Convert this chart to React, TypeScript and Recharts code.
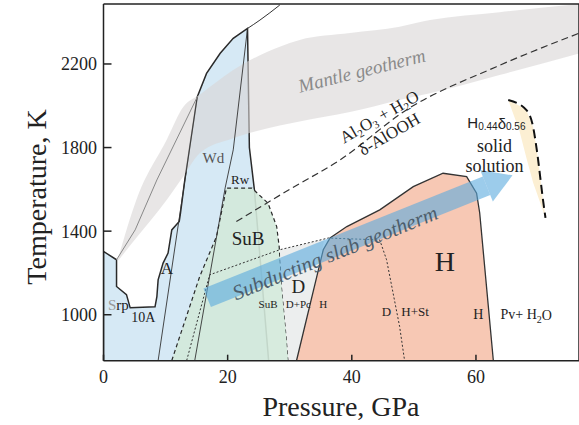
import { Area, ComposedChart, Line, Scatter, XAxis, YAxis } from "recharts";

const xTicks = [0, 20, 40, 60];
const yTicks = [1000, 1400, 1800, 2200];

const blueField = [
  [0, 781], [0, 1303], [2.1, 1263], [2.1, 1135], [3.7, 1096], [4.3, 1033], [8.3, 1038],
  [8.6, 1087], [8.8, 1167], [9.6, 1247], [10.4, 1295], [11.0, 1406], [12.2, 1446],
  [12.4, 1486], [13.1, 1645], [15.1, 2042], [16.6, 2155], [18.8, 2251], [20.9, 2323],
  [23.2, 2370], [23.5, 1800], [24.3, 1600], [26.6, 781],
];
const subField = [
  [11.0, 781], [15.5, 1183], [18.2, 1374], [19.8, 1606], [23.9, 1606], [26.5, 1534],
  [27.9, 1422], [28.3, 1326], [28.7, 1152], [29.5, 896], [29.8, 781],
];
const dField = [[29.8, 781], [29.5, 896], [28.7, 1152], [28.4, 1311], [35.6, 1362], [31.1, 781]];
const hField = [
  [31.1, 781], [35.4, 1311], [36.5, 1367], [39.2, 1422], [44.5, 1502], [49.9, 1613],
  [54.7, 1677], [58.5, 1661], [60.1, 1582], [60.6, 1488], [62.8, 781],
];

// bands: pressure, lower T, upper T
const mantleP = [2.2, 5.3, 10.2, 12.9, 15.5, 20.9, 28.4, 31.6, 39.7, 47.7, 52.6, 63.8, 76.6];
const mantleLo = [1253, 1368, 1550, 1664, 1773, 1845, 1905, 1925, 1970, 2028, 2060, 2147, 2250];
const mantleHi = [1253, 1550, 1838, 1996, 2053, 2171, 2283, 2315, 2348, 2378, 2410, 2448, 2487];
const ssP = [65.2, 67.0, 68.1, 69.2, 69.8, 70.8, 71.2];
const ssLo = [2028, 1880, 1754, 1633, 1582, 1497, 1463];
const ssHi = [2028, 2000, 1980, 1900, 1789, 1550, 1463];

// boundaries
const awdLine = [[8.8, 781], [15.1, 2042]];
const wdRwLine = [[23.2, 2370], [20.9, 1789], [19.6, 1607], [14.7, 781]];
const grayLine = [[2.1, 1263], [5.1, 1406], [8.6, 1645], [15.1, 2042]];
const topLine = [[23.2, 2370], [25.2, 2410], [28.4, 2482]];
const dottedLine = [
  [13.4, 781], [17.1, 1191], [28.4, 1311], [36.2, 1367], [44.5, 1358], [45.6, 1263],
  [47.7, 944], [48.5, 781],
];
const aloohLine = [[21.4, 1446], [30, 1600], [38.1, 1741], [48.8, 1980], [63.3, 2187], [76.6, 2347]];
const ssLine = [[65.2, 2028], [68.1, 1980], [69.2, 1900], [69.8, 1789], [70.8, 1550], [71.2, 1463]];
const slabArrow = [[16.7, 1081], [61.7, 1617]];
const slabHead = [[61.7, 1617]];

const labels = [
  { id: "mantle", x: 41.6, y: 2168 },
  { id: "alooh", x: 45.3, y: 1903 },
  { id: "hd", x: 63.3, y: 1918 },
  { id: "solid", x: 63.0, y: 1808 },
  { id: "solution", x: 63.0, y: 1714 },
  { id: "Wd", x: 17.7, y: 1749 },
  { id: "Rw", x: 22.0, y: 1649 },
  { id: "SuB", x: 23.3, y: 1367 },
  { id: "A", x: 10.2, y: 1223 },
  { id: "Srp", x: 2.4, y: 1048 },
  { id: "10A", x: 6.4, y: 989 },
  { id: "D", x: 31.4, y: 1135 },
  { id: "subSmall", x: 26.5, y: 1053 },
  { id: "D+Pc", x: 31.4, y: 1053 },
  { id: "hSmall", x: 35.4, y: 1053 },
  { id: "H", x: 55.0, y: 1255 },
  { id: "dSmall", x: 45.6, y: 1016 },
  { id: "H+St", x: 50.2, y: 1016 },
  { id: "hPv", x: 60.4, y: 1000 },
  { id: "Pv", x: 68.1, y: 1000 },
  { id: "slab", x: 37.3, y: 1296 },
];

const pts = (a: number[][]) => a.map(([x, y]) => ({ x, y }));
const band = (p: number[], lo: number[], hi: number[]) => p.map((x, i) => ({ x, r: [lo[i], hi[i]] }));

const serif = "'Liberation Serif', 'Times New Roman', serif";
const sans = "'Liberation Sans', Arial, sans-serif";
const ink = "#222";

const plain: Record<string, [string, number, string?]> = {
  Wd: ["Wd", 15, "#555"],
  Rw: ["Rw", 13],
  SuB: ["SuB", 19],
  A: ["A", 17],
  "10A": ["10A", 14],
  D: ["D", 19],
  subSmall: ["SuB", 11],
  "D+Pc": ["D+Pc", 11],
  hSmall: ["H", 11],
  H: ["H", 28],
  dSmall: ["D", 13],
  "H+St": ["H+St", 13],
  hPv: ["H", 14],
  solid: ["solid", 18],
  solution: ["solution", 18],
};

function PhaseLabel(props: any) {
  const { cx, cy, payload } = props;
  const id = payload.id;
  if (plain[id]) {
    const [t, size, color] = plain[id];
    return (
      <text x={cx} y={cy} textAnchor="middle" dominantBaseline="central" fontFamily={serif} fontSize={size} fill={color ?? ink}>
        {t}
      </text>
    );
  }
  if (id === "Srp")
    return (
      <text x={cx} y={cy} textAnchor="middle" dominantBaseline="central" fontFamily={serif} fontSize={15} fill={ink}>
        <tspan fill="#999">S</tspan>rp
      </text>
    );
  if (id === "Pv")
    return (
      <text x={cx} y={cy} textAnchor="middle" dominantBaseline="central" fontFamily={serif} fontSize={14} fill={ink}>
        Pv+ H<tspan fontSize={10} dy={4}>2</tspan><tspan dy={-4}>O</tspan>
      </text>
    );
  if (id === "hd")
    return (
      <text x={cx} y={cy} textAnchor="middle" dominantBaseline="central" fontFamily={sans} fontSize={15} fill={ink}>
        H<tspan fontSize={10} dy={3}>0.44</tspan><tspan dy={-3}>δ</tspan><tspan fontSize={10} dy={3}>0.56</tspan>
      </text>
    );
  if (id === "mantle")
    return (
      <text x={cx} y={cy} transform={`rotate(-14 ${cx} ${cy})`} textAnchor="middle" dominantBaseline="central" fontFamily={serif} fontStyle="italic" fontSize={19} fill="#8a8a8a">
        Mantle geotherm
      </text>
    );
  if (id === "slab")
    return (
      <text x={cx} y={cy} transform={`rotate(-22 ${cx} ${cy})`} textAnchor="middle" dominantBaseline="central" fontFamily={serif} fontStyle="italic" fontSize={21} fill="#4d5e6c">
        Subducting slab geotherm
      </text>
    );
  if (id === "alooh")
    return (
      <g transform={`translate(${cx} ${cy}) rotate(-30)`} fontFamily={serif} fontSize={17} fill={ink}>
        <text x={0} y={-5} textAnchor="middle">
          Al<tspan fontSize={11} dy={3}>2</tspan><tspan dy={-3}>O</tspan><tspan fontSize={11} dy={3}>3</tspan>
          <tspan dy={-3}> + H</tspan><tspan fontSize={11} dy={3}>2</tspan><tspan dy={-3}>O</tspan>
        </text>
        <text x={0} y={15} textAnchor="middle">δ-AlOOH</text>
      </g>
    );
  return null;
}

function ArrowHead(props: any) {
  const { cx, cy } = props;
  const ux = 0.928, uy = -0.373;
  const tip = `${cx + 28 * ux},${cy + 28 * uy}`;
  const a = `${cx - 17 * uy},${cy + 17 * ux}`;
  const b = `${cx + 17 * uy},${cy - 17 * ux}`;
  return <polygon points={`${a} ${tip} ${b}`} fill="#5aaadd" fillOpacity={0.6} />;
}

const axisTick = { fontFamily: serif, fontSize: 18, fill: ink };
const noLabel = () => <g />;

export default function App() {
  return (
    <div style={{ position: "absolute", left: 0, top: 0, background: "#fff" }}>
      <ComposedChart width={579} height={425} margin={{ top: 3, right: -1, bottom: 0, left: 0 }}>
        <XAxis
          xAxisId={0}
          dataKey="x"
          type="number"
          domain={[0, 76.6]}
          ticks={xTicks}
          allowDataOverflow
          height={64.3}
          tickSize={-6}
          tickMargin={16}
          tick={axisTick}
          stroke={ink}
          strokeWidth={1.5}
          label={{
            content: () => (
              <text x={341} y={416} textAnchor="middle" fontFamily={serif} fontSize={28} fill={ink}>
                Pressure, GPa
              </text>
            ),
          }}
        />
        <XAxis xAxisId="top" orientation="top" type="number" domain={[0, 76.6]} ticks={xTicks} height={1} tickSize={-6} tick={noLabel} stroke={ink} strokeWidth={1.5} />
        <YAxis
          yAxisId={0}
          dataKey="y"
          type="number"
          domain={[780, 2487]}
          ticks={yTicks}
          allowDataOverflow
          width={103.5}
          tickSize={-8}
          tickMargin={14.5}
          tick={axisTick}
          stroke={ink}
          strokeWidth={1.5}
          label={{
            content: () => (
              <text x={36} y={197} transform="rotate(-90 36 197)" textAnchor="middle" dominantBaseline="central" fontFamily={serif} fontSize={28} fill={ink}>
                Temperature, K
              </text>
            ),
          }}
        />
        <YAxis yAxisId="right" orientation="right" type="number" domain={[780, 2487]} ticks={yTicks} width={1} tickSize={-9} tick={noLabel} stroke={ink} strokeWidth={1.5} />

        <Area data={pts(blueField)} dataKey="y" type="linear" fill="#d6e9f5" fillOpacity={1} stroke="#2a2a2a" strokeWidth={1.5} isAnimationActive={false} />
        <Area data={pts(subField)} dataKey="y" type="linear" fill="#d3e9da" fillOpacity={0.9} stroke="#2a2a2a" strokeWidth={1.2} strokeDasharray="4 3" isAnimationActive={false} />
        <Area data={pts(dField)} dataKey="y" type="linear" fill="#eceeee" fillOpacity={1} stroke="none" isAnimationActive={false} />
        <Area data={pts(hField)} dataKey="y" type="linear" fill="#f7c8b4" fillOpacity={1} stroke="#333" strokeWidth={1.3} isAnimationActive={false} />
        <Area data={band(ssP, ssLo, ssHi)} dataKey="r" type="linear" fill="#fcefd3" fillOpacity={1} stroke="none" isAnimationActive={false} />
        <Area data={band(mantleP, mantleLo, mantleHi)} dataKey="r" type="monotone" fill="#d9d6d6" fillOpacity={0.6} stroke="none" isAnimationActive={false} />

        <Line data={pts(awdLine)} dataKey="y" type="linear" stroke="#333" strokeWidth={0.9} dot={false} isAnimationActive={false} />
        <Line data={pts(wdRwLine)} dataKey="y" type="linear" stroke="#333" strokeWidth={0.9} dot={false} isAnimationActive={false} />
        <Line data={pts(grayLine)} dataKey="y" type="linear" stroke="#888" strokeWidth={1} dot={false} isAnimationActive={false} />
        <Line data={pts(topLine)} dataKey="y" type="monotone" stroke="#333" strokeWidth={1} dot={false} isAnimationActive={false} />
        <Line data={pts(dottedLine)} dataKey="y" type="linear" stroke="#333" strokeWidth={1} strokeDasharray="2 2" dot={false} isAnimationActive={false} />
        <Line data={pts(aloohLine)} dataKey="y" type="monotone" stroke="#333" strokeWidth={1.2} strokeDasharray="7 4" dot={false} isAnimationActive={false} />
        <Line data={pts(ssLine)} dataKey="y" type="monotone" stroke="#111" strokeWidth={2} strokeDasharray="9 5" dot={false} isAnimationActive={false} />

        <Line data={pts(slabArrow)} dataKey="y" type="linear" stroke="#5aaadd" strokeOpacity={0.6} strokeWidth={20} dot={false} isAnimationActive={false} />
        <Scatter data={pts(slabHead)} shape={ArrowHead} isAnimationActive={false} />
        <Scatter data={labels} shape={PhaseLabel} isAnimationActive={false} />
      </ComposedChart>
    </div>
  );
}
